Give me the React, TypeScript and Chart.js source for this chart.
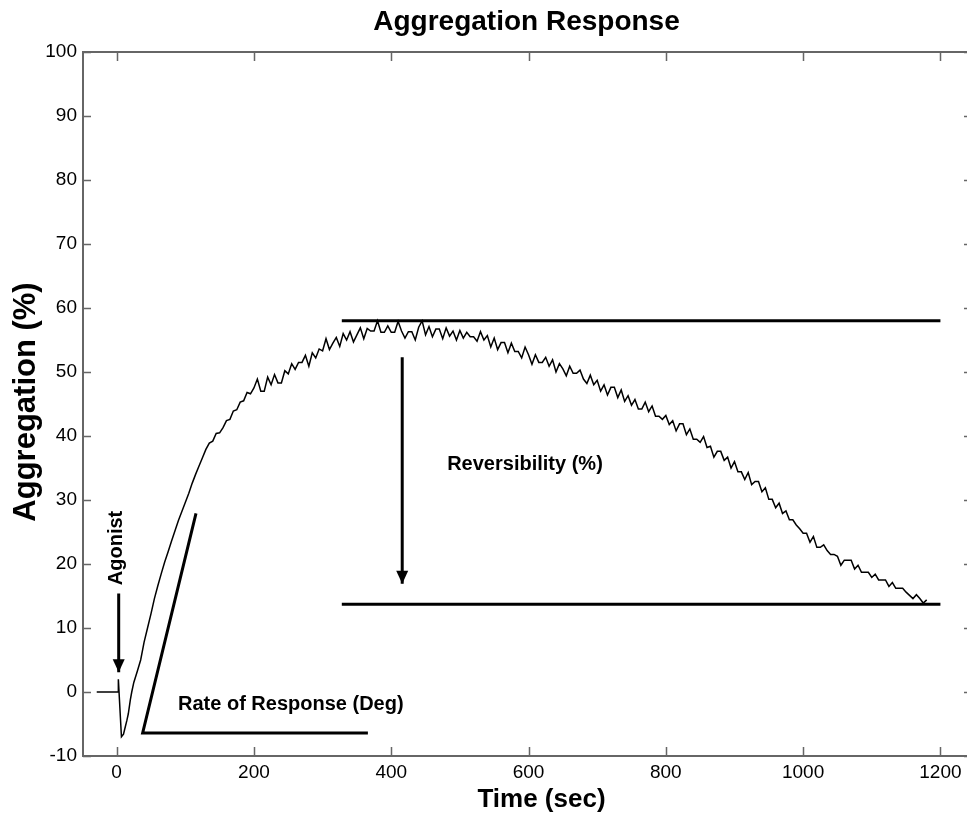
import React, { useEffect, useRef } from "react";
import { Chart, registerables } from "chart.js";

Chart.register(...registerables);

// ---------- data ----------
const xTickValues = [0, 200, 400, 600, 800, 1000, 1200];
const yTickValues = [-10, 0, 10, 20, 30, 40, 50, 60, 70, 80, 90, 100];

// baseline, agonist artefact and the initial rise (sec, %)
const riseTimes = [
  -29, 2.5, 2.5, 7, 10, 12, 15, 17, 20, 22, 25, 30, 35, 40, 45, 50, 55, 60, 65, 70,
  75, 80, 85, 90, 95, 100, 105, 110, 115, 120, 125, 130, 135, 140, 145, 150, 155,
  160, 165, 170, 175, 180, 185, 190, 195,
];
const riseValues = [
  0, 0, 2, -7, -6.6, -5.7, -4.4, -3.4, -1.2, 0, 1.5, 3.2, 5, 7.8, 10, 12.2, 14.6,
  16.6, 18.5, 20.3, 21.9, 23.6, 25.2, 26.8, 28.2, 29.6, 31, 32.6, 34, 35.3, 36.6,
  37.9, 38.9, 39.2, 40.4, 40.5, 41.3, 42.4, 42.6, 43.9, 44.1, 45.3, 45.5, 46.8, 46.6,
];

// noisy recording from 200 s, one reading every 5 s
const noisyStartTime = 200;
const sampleInterval = 5;
const noisyValues = [
  47.5, 48.9, 47.0, 47.0, 49.2, 48.0, 49.6, 48.3, 48.3, 50.2,
  49.7, 51.3, 50.4, 51.5, 51.5, 52.6, 50.9, 53.0, 52.2, 53.6,
  53.3, 55.2, 53.5, 54.5, 55.4, 54.0, 56.0, 55.0, 56.3, 54.7,
  55.8, 56.9, 55.2, 56.8, 56.4, 56.4, 58.0, 56.2, 56.2, 57.2,
  56.2, 56.2, 57.9, 56.4, 55.3, 56.3, 56.3, 55.0, 57.0, 58.0,
  55.8, 57.1, 55.5, 56.7, 56.7, 55.2, 56.9, 55.6, 56.4, 55.0,
  56.5, 55.3, 56.2, 55.5, 55.5, 54.8, 56.3, 55.0, 55.7, 53.9,
  55.3, 53.5, 54.6, 54.6, 53.0, 54.5, 53.2, 53.2, 52.2, 53.9,
  52.7, 51.2, 52.7, 51.5, 51.5, 52.3, 50.9, 51.9, 50.0, 51.3,
  50.5, 49.4, 50.9, 49.8, 49.8, 50.3, 48.9, 48.2, 49.5, 48.0,
  48.7, 47.0, 48.0, 46.4, 47.6, 47.6, 46.0, 47.2, 45.4, 46.3,
  44.8, 45.7, 44.2, 44.2, 45.3, 43.8, 44.7, 43.1, 43.1, 42.6,
  43.2, 41.8, 42.4, 40.8, 41.9, 41.9, 40.2, 41.1, 39.5, 39.5,
  39.0, 39.9, 38.2, 38.4, 36.7, 37.6, 37.6, 36.2, 36.7, 35.0,
  36.0, 34.4, 34.4, 33.2, 34.3, 32.4, 32.9, 32.9, 31.3, 31.9,
  30.1, 30.1, 28.8, 29.5, 27.9, 28.3, 26.9, 26.9, 26.1, 25.5,
  24.8, 24.8, 23.4, 24.3, 22.6, 22.6, 23.0, 22.1, 21.5, 21.5,
  21.2, 19.8, 20.6, 20.6, 20.6, 19.2, 19.8, 18.7, 18.7, 18.7,
  17.9, 18.4, 17.5, 17.5, 17.5, 16.5, 17.1, 16.2, 16.2, 16.2,
  15.6, 15.1, 14.6, 15.2, 14.6, 13.9, 14.4,
];

// annotation guide lines
const maxLineTimes = [328, 1200];
const maxLineLevel = 58;
const finalLineTimes = [328, 1200];
const finalLineLevel = 13.7;
const rateLineTimes = [366, 37.9, 115.6];
const rateLineValues = [-6.4, -6.4, 27.9];
const agonistArrowTimes = [3, 3];
const agonistArrowValues = [15.4, 3.1];
const reversibilityArrowTimes = [416, 416];
const reversibilityArrowValues = [52.3, 16.9];

const annotationTexts = ["Agonist", "Rate of Response (Deg)", "Reversibility (%)"];
const annotationTimes = [7.7, 89.4, 481.5];
const annotationValues = [22.5, -2.86, 34.75];

// ---------- helpers ----------
const FONT = '"Liberation Sans", Arial, Helvetica, sans-serif';
const toPoints = (xs: number[], ys: number[]) => xs.map((x, i) => ({ x, y: ys[i] }));

const noisyTimes = noisyValues.map((_, i) => noisyStartTime + i * sampleInterval);
const mainPoints = [
  ...toPoints(riseTimes, riseValues),
  ...toPoints(noisyTimes, noisyValues),
];

const CANVAS_W = 990;
const CANVAS_H = 822;

const decorPlugin = {
  id: "decor",
  afterDraw(chart: any) {
    const { ctx, chartArea } = chart;
    const xs = chart.scales.x;
    const ys = chart.scales.y;
    const { left, right, top, bottom } = chartArea;
    ctx.save();

    // arrow heads
    chart.data.datasets.forEach((ds: any, i: number) => {
      if (!ds.arrowHead) return;
      const pts = chart.getDatasetMeta(i).data;
      const tip = pts[pts.length - 1];
      const prev = pts[pts.length - 2];
      const ang = Math.atan2(tip.y - prev.y, tip.x - prev.x);
      const len = 13;
      const half = 6;
      ctx.beginPath();
      ctx.moveTo(tip.x, tip.y);
      ctx.lineTo(
        tip.x - len * Math.cos(ang) + half * Math.sin(ang),
        tip.y - len * Math.sin(ang) - half * Math.cos(ang)
      );
      ctx.lineTo(
        tip.x - len * Math.cos(ang) - half * Math.sin(ang),
        tip.y - len * Math.sin(ang) + half * Math.cos(ang)
      );
      ctx.closePath();
      ctx.fillStyle = "#000";
      ctx.fill();
    });

    // axes box and inward ticks
    ctx.strokeStyle = "#666";
    ctx.lineWidth = 2;
    ctx.strokeRect(left, top, right - left, bottom - top);
    ctx.beginPath();
    xTickValues.forEach((v) => {
      const px = Math.round(xs.getPixelForValue(v)) + 0.5;
      ctx.moveTo(px, bottom);
      ctx.lineTo(px, bottom - 9);
      ctx.moveTo(px, top);
      ctx.lineTo(px, top + 9);
    });
    yTickValues.forEach((v) => {
      const py = Math.round(ys.getPixelForValue(v)) + 0.5;
      ctx.moveTo(left, py);
      ctx.lineTo(left + 8, py);
      ctx.moveTo(right, py);
      ctx.lineTo(right - 8, py);
    });
    ctx.lineWidth = 1.5;
    ctx.stroke();

    // annotation texts
    ctx.fillStyle = "#000";
    ctx.font = `bold 20px ${FONT}`;
    annotationTexts.forEach((txt, i) => {
      const px = xs.getPixelForValue(annotationTimes[i]);
      const py = ys.getPixelForValue(annotationValues[i]);
      if (i === 0) {
        ctx.save();
        ctx.translate(px, py);
        ctx.rotate(-Math.PI / 2);
        ctx.textAlign = "center";
        ctx.textBaseline = "alphabetic";
        ctx.fillText(txt, 0, 0);
        ctx.restore();
      } else {
        ctx.textAlign = "left";
        ctx.textBaseline = "alphabetic";
        ctx.fillText(txt, px, py);
      }
    });

    // title
    ctx.font = `bold 28px ${FONT}`;
    ctx.textAlign = "center";
    ctx.textBaseline = "alphabetic";
    ctx.fillText("Aggregation Response", 526.5, 30);

    // x axis title
    ctx.font = `bold 26px ${FONT}`;
    ctx.fillText("Time (sec)", 541.5, 807);

    // y axis title
    ctx.save();
    ctx.translate(35, 402);
    ctx.rotate(-Math.PI / 2);
    ctx.font = `bold 31px ${FONT}`;
    ctx.fillText("Aggregation (%)", 0, 0);
    ctx.restore();

    ctx.restore();
  },
};

export default function App() {
  const ref = useRef<HTMLCanvasElement | null>(null);

  useEffect(() => {
    if (!ref.current) return;
    const lineStyle = (w: number) => ({
      borderColor: "#000",
      backgroundColor: "#000",
      borderWidth: w,
      pointRadius: 0,
      fill: false,
      tension: 0,
    });
    const chart = new Chart(ref.current, {
      type: "line",
      data: {
        datasets: [
          { label: "Aggregation", data: mainPoints, ...lineStyle(1.5) },
          {
            label: "Maximum",
            data: toPoints(maxLineTimes, maxLineTimes.map(() => maxLineLevel)),
            ...lineStyle(3),
          },
          {
            label: "Final",
            data: toPoints(finalLineTimes, finalLineTimes.map(() => finalLineLevel)),
            ...lineStyle(3),
          },
          { label: "Rate", data: toPoints(rateLineTimes, rateLineValues), ...lineStyle(3) },
          {
            label: "Agonist",
            data: toPoints(agonistArrowTimes, agonistArrowValues),
            ...lineStyle(3),
            borderCapStyle: "butt",
            arrowHead: true,
          } as any,
          {
            label: "Reversibility",
            data: toPoints(reversibilityArrowTimes, reversibilityArrowValues),
            ...lineStyle(3),
            arrowHead: true,
          } as any,
        ],
      },
      options: {
        responsive: false,
        animation: false,
        devicePixelRatio: 1,
        parsing: false as any,
        layout: { padding: { left: 0, top: 52, right: CANVAS_W - 972, bottom: 0 } },
        plugins: {
          legend: { display: false },
          tooltip: { enabled: false },
          title: { display: false },
        },
        scales: {
          x: {
            type: "linear",
            min: -49,
            max: 1246,
            grid: { display: false, drawTicks: false, tickLength: 0 },
            border: { display: false },
            afterBuildTicks: (s: any) => {
              s.ticks = xTickValues.map((value) => ({ value }));
            },
            afterFit: (s: any) => {
              s.height = CANVAS_H - 756;
            },
            ticks: {
              color: "#000",
              padding: 5,
              maxRotation: 0,
              font: { family: FONT, size: 19 },
              callback: (v: any) => String(v),
            },
          },
          y: {
            type: "linear",
            min: -10,
            max: 100,
            grid: { display: false, drawTicks: false, tickLength: 0 },
            border: { display: false },
            afterBuildTicks: (s: any) => {
              s.ticks = yTickValues.map((value) => ({ value }));
            },
            afterFit: (s: any) => {
              s.width = 83;
            },
            ticks: {
              color: "#000",
              padding: 6,
              font: { family: FONT, size: 19 },
              callback: (v: any) => String(v),
            },
          },
        },
      },
      plugins: [decorPlugin],
    });
    return () => chart.destroy();
  }, []);

  return (
    <div
      style={{
        position: "absolute",
        left: 0,
        top: 0,
        width: 967,
        height: 822,
        overflow: "hidden",
        background: "#fff",
      }}
    >
      <canvas
        ref={ref}
        width={CANVAS_W}
        height={CANVAS_H}
        style={{ width: CANVAS_W, height: CANVAS_H, display: "block" }}
      />
    </div>
  );
}
